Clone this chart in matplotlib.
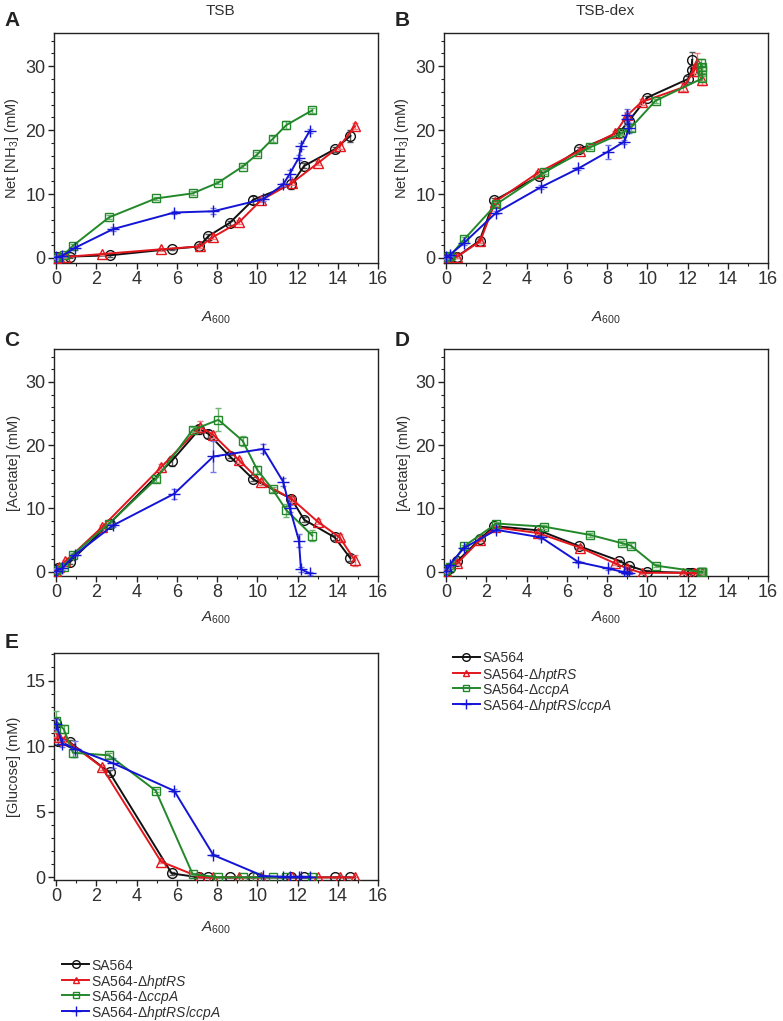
import numpy as np
import matplotlib
matplotlib.use("Agg")
import matplotlib.pyplot as plt
from matplotlib.lines import Line2D
from matplotlib.ticker import MultipleLocator

plt.rcParams['font.family'] = ['Liberation Sans', 'DejaVu Sans']
plt.rcParams['mathtext.fontset'] = 'custom'
plt.rcParams['mathtext.rm'] = 'Liberation Sans'
plt.rcParams['mathtext.it'] = 'Liberation Sans:italic'
plt.rcParams['mathtext.bf'] = 'Liberation Sans:bold'

# ---------------- data ----------------
strains = ['SA564', 'SA564-Δ$\\mathit{hptRS}$', 'SA564-Δ$\\mathit{ccpA}$',
           'SA564-Δ$\\mathit{hptRS/ccpA}$']

# TSB: A600 per strain (panels A, C, E)
tsb_x_wt = [0.02, 0.1, 0.68, 2.66, 5.75, 7.12, 7.57, 8.64, 9.8, 11.7, 12.33, 13.85, 14.63]
tsb_x_hpt = [0.02, 0.15, 0.46, 2.28, 5.22, 7.16, 7.82, 9.1, 10.18, 11.75, 13.0, 14.1, 14.84]
tsb_x_ccp = [0.02, 0.38, 0.84, 2.64, 4.96, 6.79, 8.07, 9.27, 10.0, 10.76, 11.45, 12.73]
tsb_x_dbl = [0.02, 0.3, 0.96, 2.83, 5.87, 7.82, 10.3, 11.29, 11.62, 12.07, 12.17, 12.61]

# Panel A: net NH3 (TSB)
nh3_tsb_wt = [0.1, 0.1, 0.2, 0.4, 1.4, 1.8, 3.4, 5.5, 9.1, 11.5, 14.4, 17.0, 19.1]
nh3_tsb_hpt = [0.05, 0.1, 0.15, 0.6, 1.35, 1.8, 3.3, 5.6, 9.0, 11.8, 14.8, 17.5, 20.6]
nh3_tsb_ccp = [0.2, 0.45, 1.9, 6.35, 9.3, 10.1, 11.8, 14.3, 16.2, 18.6, 20.8, 23.1]
nh3_tsb_dbl = [0.1, 0.3, 1.6, 4.5, 7.1, 7.3, 9.2, 11.5, 13.2, 15.7, 17.5, 19.9]
nh3_tsb_wt_err = [0.2, 0.2, 0.2, 0.2, 0.2, 0.3, 0.3, 0.3, 0.6, 0.7, 0.4, 0.4, 0.9]
nh3_tsb_hpt_err = [0.2, 0.2, 0.2, 0.2, 0.2, 0.2, 0.3, 0.3, 0.3, 0.4, 0.3, 0.4, 0.5]
nh3_tsb_ccp_err = [0.2, 0.3, 0.3, 0.3, 0.3, 0.3, 0.3, 0.3, 0.3, 0.4, 0.6, 0.4]
nh3_tsb_dbl_err = [0.2, 0.2, 0.3, 0.3, 0.3, 0.5, 0.3, 0.3, 0.5, 0.4, 0.5, 0.3]

# Panel C: acetate (TSB)
ace_tsb_wt = [0.2, 0.5, 1.5, 7.6, 17.5, 22.5, 21.8, 18.2, 14.6, 11.5, 8.2, 5.4, 2.1]
ace_tsb_hpt = [0.15, 0.7, 1.6, 7.0, 16.5, 22.9, 21.6, 17.6, 14.2, 11.4, 7.9, 5.4, 1.8]
ace_tsb_ccp = [0.3, 0.8, 2.7, 7.6, 14.6, 22.4, 24.0, 20.7, 16.1, 13.0, 9.7, 5.7]
ace_tsb_dbl = [0.15, 0.5, 2.7, 7.3, 12.3, 18.2, 19.4, 14.2, 10.0, 4.9, 0.4, -0.3]
ace_tsb_wt_err = [0.2, 0.2, 0.3, 0.3, 0.8, 0.7, 0.6, 0.3, 0.3, 0.4, 0.4, 0.4, 0.5]
ace_tsb_hpt_err = [0.2, 0.2, 0.3, 0.3, 0.5, 0.9, 0.5, 0.4, 0.5, 0.4, 0.4, 0.6, 0.9]
ace_tsb_ccp_err = [0.2, 0.2, 0.3, 0.3, 0.4, 0.4, 1.8, 0.8, 0.6, 0.4, 1.0, 0.8]
ace_tsb_dbl_err = [0.2, 0.2, 0.3, 0.3, 0.8, 2.5, 0.7, 0.6, 0.6, 1.0, 0.4, 0.2]

# Panel E: glucose (TSB)
glc_tsb_wt = [11.8, 10.4, 10.3, 8.0, 0.3, 0, 0, 0, 0, 0, 0, 0, 0]
glc_tsb_hpt = [11.0, 10.7, 10.5, 8.4, 1.2, 0, 0, 0, 0, 0, 0, 0, 0]
glc_tsb_ccp = [11.9, 11.3, 9.5, 9.3, 6.6, 0.25, 0, 0, 0, 0, 0, 0]
glc_tsb_dbl = [11.7, 10.2, 9.8, 8.7, 6.6, 1.7, 0.1, 0.05, 0.05, 0.05, 0.05, 0.05]
glc_tsb_wt_err = [0.3, 0.3, 0.2, 0.2, 0.1, 0, 0, 0, 0, 0, 0, 0, 0]
glc_tsb_hpt_err = [0.3, 0.3, 0.2, 0.2, 0.1, 0, 0, 0, 0, 0, 0, 0, 0]
glc_tsb_ccp_err = [0.8, 0.3, 0.3, 0.2, 0.1, 0.1, 0, 0, 0, 0, 0, 0]
glc_tsb_dbl_err = [0.4, 0.3, 0.6, 0.4, 0.1, 0.1, 0.05, 0.05, 0.05, 0.05, 0.05, 0.05]

# TSB-dex: A600 per strain (panels B, D)
dex_x_wt = [0.02, 0.2, 0.55, 1.67, 2.4, 4.63, 6.63, 8.61, 9.1, 10.0, 12.03, 12.2, 12.23]
dex_x_hpt = [0.02, 0.55, 1.7, 2.45, 4.56, 6.66, 8.4, 9.0, 9.72, 11.79, 12.31, 12.45, 12.7]
dex_x_ccp = [0.02, 0.2, 0.9, 2.5, 4.88, 7.16, 8.73, 9.19, 10.41, 12.74, 12.7, 12.66, 12.72]
dex_x_dbl = [0.02, 0.18, 0.88, 2.5, 4.73, 6.58, 8.03, 8.86, 9.1, 9.0, 8.98]

# Panel B: net NH3 (TSB-dex)
nh3_dex_wt = [0.1, 0.2, 0.2, 2.7, 9.0, 12.8, 17.0, 19.6, 21.5, 25.1, 28.0, 29.4, 31.0]
nh3_dex_hpt = [0.1, 0.2, 2.6, 8.8, 13.3, 16.8, 19.5, 22.3, 24.4, 26.7, 29.2, 30.5, 27.8]
nh3_dex_ccp = [0.1, 0.3, 2.9, 8.4, 13.4, 17.3, 19.5, 20.4, 24.6, 28.1, 29.4, 30.5, 29.9]
nh3_dex_dbl = [0.1, 0.45, 2.3, 7.1, 11.1, 14.0, 16.6, 18.2, 20.3, 21.8, 22.3]
nh3_dex_wt_err = [0.2, 0.2, 0.2, 0.3, 0.3, 0.3, 0.3, 0.3, 0.4, 0.3, 0.4, 0.6, 1.3]
nh3_dex_hpt_err = [0.2, 0.2, 0.3, 0.3, 0.3, 0.3, 0.3, 0.4, 0.4, 0.6, 0.8, 1.5, 0.7]
nh3_dex_ccp_err = [0.2, 0.2, 0.3, 0.3, 0.3, 0.3, 0.3, 0.5, 0.3, 0.4, 0.5, 0.6, 0.5]
nh3_dex_dbl_err = [0.2, 0.2, 0.3, 0.3, 0.3, 0.3, 1.1, 0.3, 0.8, 1.0, 1.0]

# Panel D: acetate (TSB-dex)
ace_dex_wt = [0.15, 0.6, 1.6, 5.1, 7.2, 6.5, 4.0, 1.7, 0.9, 0.0, -0.2, -0.2, -0.2]
ace_dex_hpt = [0.15, 1.3, 5.0, 7.0, 6.1, 3.8, 1.3, 0.5, -0.2, -0.2, -0.2, -0.2, -0.2]
ace_dex_ccp = [0.26, 0.8, 4.0, 7.6, 7.1, 5.8, 4.5, 4.1, 0.95, -0.1, -0.1, -0.1, -0.1]
ace_dex_dbl = [0.15, 1.1, 3.7, 6.6, 5.4, 1.5, 0.5, -0.1, -0.2, -0.2, -0.2]
ace_dex_wt_err = [0.2] * 13
ace_dex_hpt_err = [0.2] * 13
ace_dex_ccp_err = [0.2, 0.2, 0.2, 0.3, 0.3, 0.3, 0.3, 0.4, 0.3, 0.2, 0.2, 0.2, 0.2]
ace_dex_dbl_err = [0.2] * 11

colors = ['#111111', '#e3161d', '#23882a', '#1414d6']
ecolors = ['#555555', '#ee7a7c', '#6fb274', '#7777e6']
markers = ['o', '^', 's', '+']
msizes = [7, 6.5, 6, 8]

# ---------------- figure ----------------
W, H = 783, 1021
fig = plt.figure(figsize=(W / 100, H / 100), dpi=100)
TXT = '#303030'


def axes_px(left, top, right, bottom):
    return fig.add_axes([left / W, 1 - bottom / H, (right - left) / W, (bottom - top) / H])


def style(ax, ylim, ymajor, yminor, ylabel):
    ax.set_xlim(-0.1, 16)
    ax.set_ylim(*ylim)
    ax.xaxis.set_major_locator(MultipleLocator(2))
    ax.xaxis.set_minor_locator(MultipleLocator(1))
    ax.yaxis.set_major_locator(MultipleLocator(ymajor))
    ax.yaxis.set_minor_locator(MultipleLocator(yminor))
    ax.tick_params(which='major', direction='out', length=4, width=1,
                   labelsize=13, colors='#222222', labelcolor=TXT, pad=2)
    ax.tick_params(which='minor', direction='out', length=2.5, width=0.8, colors='#222222')
    ax.tick_params(axis='x', which='both', top=False)
    ax.tick_params(axis='y', which='both', right=False)
    for s in ax.spines.values():
        s.set_linewidth(1.0)
        s.set_color('#222222')
    ax.set_ylabel(ylabel, fontsize=10.5, color=TXT)
    ax.yaxis.set_label_coords(-0.102, 0.5)


def draw(ax, xs, ys, es):
    for i in range(4):
        ax.errorbar(xs[i], ys[i], yerr=es[i], color=colors[i], ecolor=ecolors[i],
                    elinewidth=1, capsize=2.5, capthick=1, lw=1.4,
                    marker=markers[i], ms=msizes[i], mfc='none', mec=colors[i],
                    mew=1.0, zorder=3 + i * 0.1)


axA = axes_px(54, 33, 378, 263)
axB = axes_px(444, 33, 768, 263)
axC = axes_px(54, 349, 378, 576)
axD = axes_px(444, 349, 768, 576)
axE = axes_px(54, 653, 378, 880)

nh3_label = 'Net [NH$_3$] (mM)'
ace_label = '[Acetate] (mM)'
glc_label = '[Glucose] (mM)'

tsb_x = [tsb_x_wt, tsb_x_hpt, tsb_x_ccp, tsb_x_dbl]
dex_x = [dex_x_wt, dex_x_hpt, dex_x_ccp, dex_x_dbl]

draw(axA, tsb_x, [nh3_tsb_wt, nh3_tsb_hpt, nh3_tsb_ccp, nh3_tsb_dbl],
     [nh3_tsb_wt_err, nh3_tsb_hpt_err, nh3_tsb_ccp_err, nh3_tsb_dbl_err])
style(axA, (-0.8, 35.2), 10, 2, nh3_label)

draw(axB, dex_x, [nh3_dex_wt, nh3_dex_hpt, nh3_dex_ccp, nh3_dex_dbl],
     [nh3_dex_wt_err, nh3_dex_hpt_err, nh3_dex_ccp_err, nh3_dex_dbl_err])
style(axB, (-0.8, 35.2), 10, 2, nh3_label)

draw(axC, tsb_x, [ace_tsb_wt, ace_tsb_hpt, ace_tsb_ccp, ace_tsb_dbl],
     [ace_tsb_wt_err, ace_tsb_hpt_err, ace_tsb_ccp_err, ace_tsb_dbl_err])
style(axC, (-0.7, 35.2), 10, 2, ace_label)

draw(axD, dex_x, [ace_dex_wt, ace_dex_hpt, ace_dex_ccp, ace_dex_dbl],
     [ace_dex_wt_err, ace_dex_hpt_err, ace_dex_ccp_err, ace_dex_dbl_err])
style(axD, (-0.7, 35.2), 10, 2, ace_label)

draw(axE, tsb_x, [glc_tsb_wt, glc_tsb_hpt, glc_tsb_ccp, glc_tsb_dbl],
     [glc_tsb_wt_err, glc_tsb_hpt_err, glc_tsb_ccp_err, glc_tsb_dbl_err])
style(axE, (-0.2, 17.1), 5, 1, glc_label)

# x labels, titles, panel letters
xlab = '$\\mathit{A}_{600}$'
for ax, ypx in [(axA, 318), (axB, 318), (axC, 618), (axD, 618), (axE, 928)]:
    pos = ax.get_position()
    fig.text(pos.x0 + pos.width / 2, 1 - ypx / H, xlab, ha='center', va='center',
             fontsize=11, color=TXT)

fig.text(220 / W, 1 - 11 / H, 'TSB', ha='center', va='center', fontsize=11, color=TXT)
fig.text(605 / W, 1 - 11 / H, 'TSB-dex', ha='center', va='center', fontsize=11, color=TXT)
for lab, xp, yp in [('A', 12, 20), ('B', 402, 20), ('C', 12, 340), ('D', 402, 340), ('E', 12, 643)]:
    fig.text(xp / W, 1 - yp / H, lab, ha='center', va='center', fontsize=15,
             fontweight='bold', color='#222222')


# legends (manually laid out rows)
def legend_block(x0, y0, dy=15.6, hl=27):
    for i, lab in enumerate(strains):
        yc = 1 - (y0 + i * dy) / H
        xa, xb = x0 / W, (x0 + hl) / W
        fig.add_artist(Line2D([xa, xb], [yc, yc], transform=fig.transFigure,
                              color=colors[i], lw=1.4))
        fig.add_artist(Line2D([(xa + xb) / 2], [yc], transform=fig.transFigure,
                              color=colors[i], lw=0, marker=markers[i], ms=msizes[i] - 1.5,
                              mfc='none', mec=colors[i], mew=1.0))
        fig.text((x0 + hl + 2) / W, yc, lab, ha='left', va='center_baseline',
                 fontsize=10, color=TXT)


legend_block(453, 657)
legend_block(62, 964)

fig.savefig('out.png', dpi=100)
